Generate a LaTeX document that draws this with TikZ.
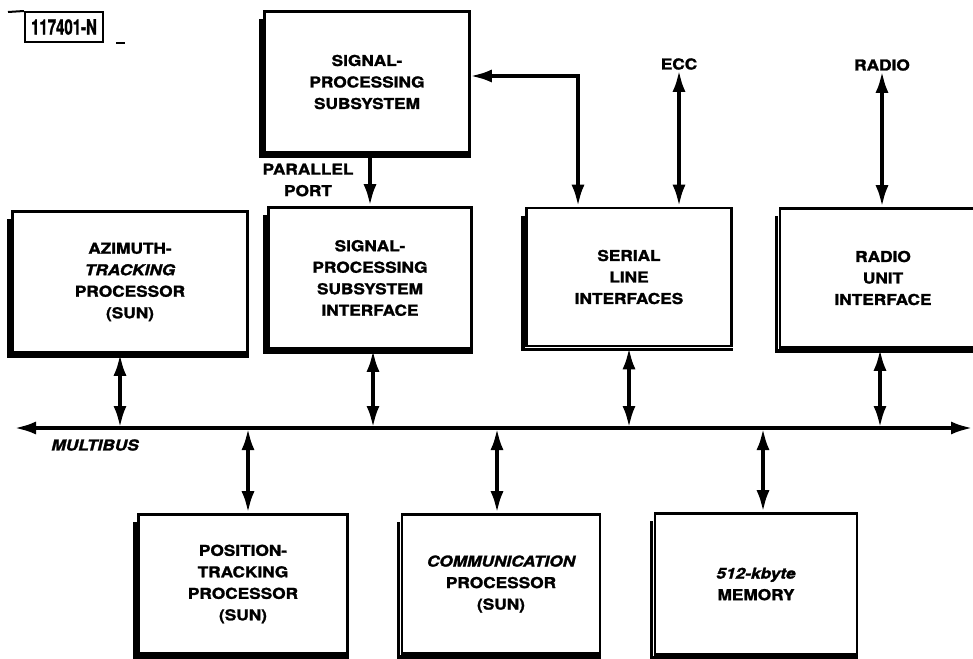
\documentclass[tikz,border=0pt]{standalone}
\usepackage{fontspec}
\setmainfont{TeX Gyre Heros}[FakeStretch=1.15,BoldFeatures={FakeBold=1.6},
  BoldItalicFeatures={FakeBold=1.6}]
\usepackage{graphicx}
\usepackage{tikz}
\usetikzlibrary{arrows.meta}

\begin{document}
\begin{tikzpicture}[x=1pt,y=-1pt,
blk/.style={draw,rectangle,line width=2.6pt,minimum width=205pt,minimum
height=141pt,inner sep=0pt,align=center,text=black,
font=\bfseries\fontsize{15}{21.5}\selectfont},
lbl/.style={align=center,inner sep=0pt,font=\bfseries\fontsize{15}{21.5}\selectfont},
link/.style={line width=4pt,{Latex[length=22pt,width=13pt]}-{Latex[length=22pt,width=13pt]}},
onelink/.style={line width=4pt,-{Latex[length=22pt,width=13pt]}}]
\useasboundingbox (0,0) rectangle (973,658);

% figure number
\node[draw,line width=2pt,inner sep=0pt,minimum width=78pt,minimum height=30pt,
  font=\bfseries\fontsize{21}{21}\selectfont] (fignum) at (64,27)
  {\scalebox{0.62}[1]{117401-N}};
\draw[line width=2pt] (8,12) -- (fignum.north west);
\draw[line width=2pt] ([xshift=12pt]fignum.south east) -- ++(9,0);

% upper boxes
\node[blk] (sps) at (367,82) {SIGNAL-\\PROCESSING\\SUBSYSTEM};
\node[blk,minimum width=235pt] (azi) at (130,282)
  {AZIMUTH-\\\itshape TRACKING\\PROCESSOR\\(SUN)};
\node[blk,minimum width=203pt] (spsi) at (370,278)
  {SIGNAL-\\PROCESSING\\SUBSYSTEM\\INTERFACE};
\node[blk,minimum height=138pt] (serial) at (629,277) {SERIAL\\LINE\\INTERFACES};
\node[blk,minimum width=206pt,minimum height=139pt] (radio) at (883,278)
  {RADIO\\UNIT\\INTERFACE};

% lower boxes
\node[blk,minimum width=209pt,minimum height=139pt] (pos) at (243,584)
  {POSITION-\\TRACKING\\PROCESSOR\\(SUN)};
\node[blk,minimum width=198pt,minimum height=139pt] (comm) at (501,584)
  {\itshape COMMUNICATION\\PROCESSOR\\(SUN)};
\node[blk,minimum width=202pt,minimum height=141pt] (mem) at (756,584)
  {\itshape 512-kbyte\\MEMORY};

% shadows on left and bottom edges
\foreach \n in {sps,azi,spsi,serial,radio,pos,comm,mem}
  \draw[line width=3.5pt] ([xshift=-2pt,yshift=-9pt]\n.north west)
    -- ([xshift=-2pt,yshift=-2pt]\n.south west) -- ([yshift=-2pt]\n.south east);

% outside labels
\node[lbl] (ecc) at (679,64) {ECC};
\node[lbl] (radiolbl) at (882,65) {RADIO};
\node[lbl] (port) at (308,180) {PARALLEL\\PORT};

% multibus
\coordinate (busl) at (14,428);
\coordinate (busr) at (973,428);
\draw[link] (busl) -- (busr);
\node[lbl,font=\bfseries\itshape\fontsize{15}{15}\selectfont] (mbus) at (95,445) {MULTIBUS};

% connectors
\draw[link] ([xshift=-1pt,yshift=6pt]sps.east) -| ([xshift=-51pt]serial.north);
\draw[onelink] (spsi.north |- sps.south) -- (spsi.north);
\draw[link] (ecc.south) -- (serial.north -| ecc.south);
\draw[link] (radiolbl.south) -- (radio.north -| radiolbl.south);

\draw[link] ([xshift=-10pt]azi.south) -- ([xshift=-10pt]azi.south |- busl);
\draw[link] ([xshift=3pt]spsi.south) -- ([xshift=3pt]spsi.south |- busl);
\draw[link] (serial.south) -- (serial.south |- busl);
\draw[link] ([xshift=-3pt]radio.south) -- ([xshift=-3pt]radio.south |- busl);

\draw[link] ([xshift=5pt]pos.north |- busl) -- ([xshift=5pt]pos.north);
\draw[link] ([xshift=-4pt]comm.north |- busl) -- ([xshift=-4pt]comm.north);
\draw[link] ([xshift=7pt]mem.north |- busl) -- ([xshift=7pt]mem.north);
\end{tikzpicture}
\end{document}
